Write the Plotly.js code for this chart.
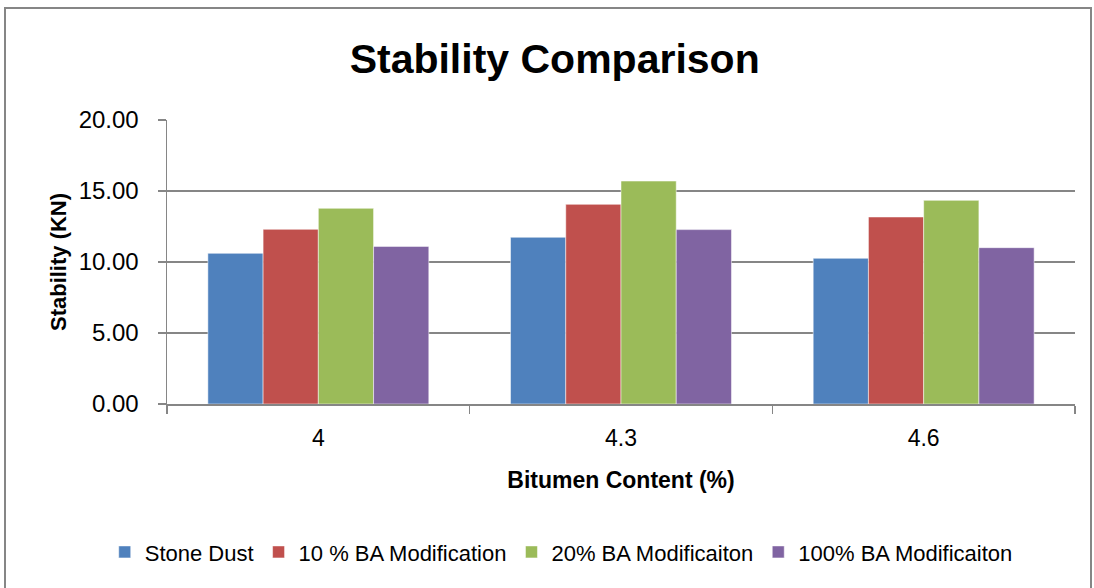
<!DOCTYPE html>
<html>
<head>
<meta charset="utf-8">
<script src="https://cdn.plot.ly/plotly-3.0.1.min.js"></script>
<style>
html,body{margin:0;padding:0;background:#fff;overflow:hidden;}
#chart{width:1094px;height:588px;}
#frame{position:absolute;left:4px;top:7px;width:1084px;height:600px;border:2px solid #868686;pointer-events:none;}
</style>
</head>
<body>
<div id="chart"></div>
<div id="frame"></div>
<script>
const categories = ["4", "4.3", "4.6"];
const seriesNames = ["Stone Dust", "10 % BA Modification", "20% BA Modificaiton", "100% BA Modificaiton"];
const stoneDust = [10.61, 11.74, 10.26];
const ba10 = [12.30, 14.06, 13.17];
const ba20 = [13.78, 15.70, 14.34];
const ba100 = [11.10, 12.28, 11.01];
const colors = ["#4F81BD", "#C0504D", "#9BBB59", "#8064A2"];
const yTicks = [0, 5, 10, 15, 20];

const FONT = "'Liberation Sans', Arial, sans-serif";
const allValues = [stoneDust, ba10, ba20, ba100];
const traces = allValues.map((vals, i) => ({
  type: "bar",
  name: seriesNames[i],
  x: categories,
  y: vals,
  marker: {color: colors[i], line: {color: "rgba(255,255,255,0.5)", width: 1}},
  hoverinfo: "x+y+name"
}));

const layout = {
  width: 1094, height: 588,
  margin: {l: 167, r: 19, t: 120, b: 184, autoexpand: false},
  paper_bgcolor: "#fff", plot_bgcolor: "#fff",
  barmode: "group", bargap: 0.27, bargroupgap: 0,
  title: {text: "<b>Stability Comparison</b>", font: {family: FONT, size: 41, color: "#000"}, x: 0.507, xanchor: "center", y: 0.9, yanchor: "middle"},
  xaxis: {
    type: "category",
    tickson: "boundaries", ticks: "outside", ticklen: 8, tickcolor: "#868686", tickwidth: 1.5,
    showline: true, linecolor: "#868686", linewidth: 1.5,
    tickfont: {family: FONT, size: 23, color: "#000"},
    ticklabelstandoff: 13,
    title: {text: "<b>Bitumen Content (%)</b>", font: {family: FONT, size: 23, color: "#000"}, standoff: 22},
    showgrid: false, zeroline: false
  },
  yaxis: {
    range: [0, 20], tickvals: yTicks, ticktext: yTicks.map(v => v.toFixed(2)),
    ticks: "outside", ticklen: 8, tickcolor: "#868686", tickwidth: 1.5,
    showline: true, linecolor: "#868686", linewidth: 1.5,
    showgrid: true, gridcolor: "#868686", gridwidth: 1.5, zeroline: false,
    tickfont: {family: FONT, size: 24, color: "#000"},
    ticklabelstandoff: 14,
    title: {text: "<b>Stability (KN)</b>", font: {family: FONT, size: 22, color: "#000"}, standoff: 6}
  },
  showlegend: true,
  legend: {orientation: "h", xref: "container", yref: "container", x: 0.513, xanchor: "center", y: 0.061, yanchor: "middle",
    font: {family: FONT, size: 22, color: "#000"}, itemwidth: 30, tracegroupgap: 0},
  font: {family: FONT}
};

Plotly.newPlot("chart", traces, layout, {displayModeBar: false, staticPlot: true});
</script>
</body>
</html>
